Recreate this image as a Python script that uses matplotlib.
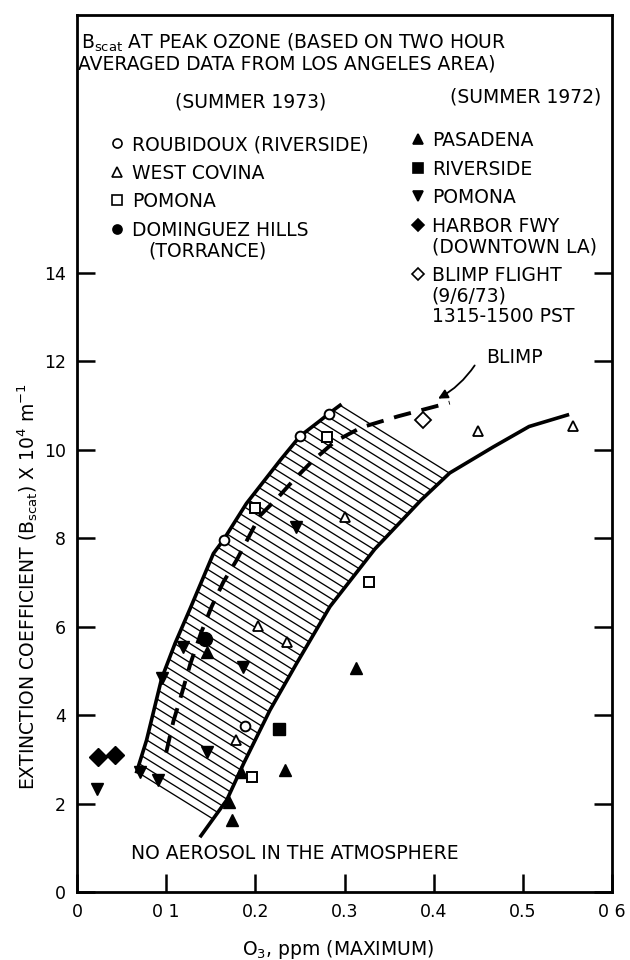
import numpy as np
import matplotlib
matplotlib.use("Agg")
import matplotlib.pyplot as plt
from matplotlib.patches import Polygon

plt.rcParams['font.family'] = ['DejaVu Sans']
plt.rcParams['mathtext.fontset'] = 'dejavusans'

# ---- data (O3 ppm, Bscat x 10^4 m^-1) ----
# summer 1973
roubidoux_x = [0.165, 0.250, 0.283, 0.188]
roubidoux_y = [7.95, 10.31, 10.80, 3.75]
west_covina_x = [0.178, 0.203, 0.235, 0.300, 0.450, 0.556]
west_covina_y = [3.43, 6.01, 5.66, 8.48, 10.42, 10.53]
pomona73_x = [0.196, 0.327, 0.200, 0.280]
pomona73_y = [2.61, 7.01, 8.67, 10.29]
dominguez_x = [0.1435]
dominguez_y = [5.71]

# summer 1972
pasadena_x = [0.1455, 0.313, 0.233, 0.184, 0.170, 0.1735]
pasadena_y = [5.43, 5.07, 2.76, 2.72, 2.04, 1.63]
riverside_x = [0.227]
riverside_y = [3.68]
pomona72_x = [0.0225, 0.0707, 0.091, 0.095, 0.119, 0.1454, 0.1865, 0.246]
pomona72_y = [2.32, 2.72, 2.53, 4.83, 5.54, 3.17, 5.09, 8.26]
harbor_x = [0.024, 0.043]
harbor_y = [3.06, 3.09]

# blimp flight 9/6/73
blimp_x = [0.388]
blimp_y = [10.67]

# band edges and curves
left_edge_x = [0.067, 0.078, 0.095, 0.110, 0.127, 0.153, 0.164, 0.190, 0.228, 0.250, 0.2725, 0.283, 0.295]
left_edge_y = [2.72, 3.43, 4.83, 5.62, 6.41, 7.65, 7.95, 8.78, 9.76, 10.30, 10.65, 10.82, 11.00]
right_edge_x = [0.139, 0.168, 0.187, 0.2164, 0.2464, 0.2837, 0.334, 0.386, 0.418, 0.467, 0.507, 0.550]
right_edge_y = [1.27, 2.08, 2.91, 4.11, 5.17, 6.45, 7.75, 8.86, 9.47, 10.06, 10.52, 10.78]
blimp_curve_x = [0.100, 0.108, 0.117, 0.127, 0.139, 0.151, 0.164, 0.179, 0.192, 0.205,
                 0.226, 0.243, 0.263, 0.289, 0.319, 0.360, 0.418]
blimp_curve_y = [3.15, 3.85, 4.45, 5.15, 5.85, 6.45, 7.00, 7.50, 8.00, 8.50,
                 8.93, 9.31, 9.72, 10.18, 10.50, 10.75, 11.06]
hatch_slope = -12.5
n_hatch = 53

xticks = [0, 0.1, 0.2, 0.3, 0.4, 0.5, 0.6]
xtick_labels = ['0', '0 1', '0.2', '0.3', '0.4', '0.5', '0 6']
yticks = [0, 2, 4, 6, 8, 10, 12, 14]

legend_1973 = [('o', 'white', ['ROUBIDOUX (RIVERSIDE)']),
               ('^', 'white', ['WEST COVINA']),
               ('s', 'white', ['POMONA']),
               ('o', 'black', ['DOMINGUEZ HILLS', '(TORRANCE)'])]
legend_1972 = [('^', 'black', ['PASADENA']),
               ('s', 'black', ['RIVERSIDE']),
               ('v', 'black', ['POMONA']),
               ('D', 'black', ['HARBOR FWY', '(DOWNTOWN LA)']),
               ('D', 'white', ['BLIMP FLIGHT', '(9/6/73)', '1315-1500 PST'])]

FS = 13.5

fig = plt.figure(figsize=(6.3, 9.6), dpi=100)
ax = fig.add_axes([77 / 630, 68 / 960, 535 / 630, 877 / 960])
ax.set_xlim(0, 0.6)
ax.set_ylim(0, 19.82)

# hatched band between the two solid curves
band = Polygon(list(zip(left_edge_x, left_edge_y)) + list(zip(right_edge_x[::-1], right_edge_y[::-1])),
               closed=True, facecolor='none', edgecolor='none')
ax.add_patch(band)
c_lo = left_edge_y[0] - hatch_slope * left_edge_x[0]
c_hi = left_edge_y[-1] - hatch_slope * left_edge_x[-1]
xs = np.array([0.0, 0.6])
for c in np.linspace(c_lo, c_hi, n_hatch):
    ln, = ax.plot(xs, c + hatch_slope * xs, color='black', lw=0.95, zorder=2)
    ln.set_clip_path(band)

ax.plot(left_edge_x, left_edge_y, color='black', lw=2.6, zorder=3)
ax.plot(right_edge_x, right_edge_y, color='black', lw=2.6, zorder=3)
ax.plot(blimp_curve_x, blimp_curve_y, color='black', lw=2.8, ls=(0, (4.5, 2.8)),
        dash_capstyle='butt', zorder=3)

# data points
mk = dict(ls='none', color='black', zorder=5)
ax.plot(roubidoux_x, roubidoux_y, marker='o', ms=7, mfc='white', mew=1.4, **mk)
ax.plot(west_covina_x, west_covina_y, marker='^', ms=7, mfc='white', mew=1.3, **mk)
ax.plot(pomona73_x, pomona73_y, marker='s', ms=7, mfc='white', mew=1.4, **mk)
ax.plot(dominguez_x, dominguez_y, marker='o', ms=10, **mk)
ax.plot(pasadena_x, pasadena_y, marker='^', ms=8, **mk)
ax.plot(riverside_x, riverside_y, marker='s', ms=8.5, **mk)
ax.plot(pomona72_x, pomona72_y, marker='v', ms=8, **mk)
ax.plot(harbor_x, harbor_y, marker='D', ms=9, **mk)
ax.plot(blimp_x, blimp_y, marker='D', ms=8, mfc='white', mew=1.3, **mk)

# annotations
ax.annotate('', xy=(0.405, 11.15), xytext=(0.446, 11.9),
            arrowprops=dict(arrowstyle='-|>', color='black', lw=1.3, shrinkA=0, shrinkB=0,
                            connectionstyle='arc3,rad=-0.12', mutation_scale=14))
ax.text(0.459, 11.96, 'BLIMP', fontsize=FS, va='baseline')
ax.text(0.061, 0.736, 'NO AEROSOL IN THE ATMOSPHERE', fontsize=FS, va='baseline')

# title block inside the frame
ax.text(0.005, 19.06, 'B$_{\\mathrm{scat}}$ AT PEAK OZONE (BASED ON TWO HOUR', fontsize=FS, va='baseline')
ax.text(0.001, 18.59, 'AVERAGED DATA FROM LOS ANGELES AREA)', fontsize=FS, va='baseline')
ax.text(0.195, 17.72, '(SUMMER 1973)', fontsize=FS, va='baseline', ha='center')
ax.text(0.503, 17.835, '(SUMMER 1972)', fontsize=FS, va='baseline', ha='center')


def draw_key(entries, x_mark, x_text, indent, y0, step=0.644, inner=0.463):
    y = y0
    for marker, face, lines in entries:
        ax.plot([x_mark], [y + 0.15], marker=marker, ms=6.5, mfc=face, mec='black',
                mew=1.2, ls='none', clip_on=False)
        for i, line in enumerate(lines):
            ax.text(x_text + (indent if i else 0), y, line, fontsize=FS, va='baseline')
            if i < len(lines) - 1:
                y -= inner
        y -= step


draw_key(legend_1973, 0.0445, 0.0613, 0.019, 16.766)
draw_key(legend_1972, 0.3828, 0.3978, 0.0, 16.857)

# axes styling
ax.set_xticks(xticks)
ax.set_xticklabels(xtick_labels)
ax.set_yticks(yticks)
ax.tick_params(direction='in', length=13, width=1.8, labelsize=12.5, pad=8, right=True, top=False)
for s in ax.spines.values():
    s.set_linewidth(2.0)

ax.set_xlabel('O$_3$, ppm (MAXIMUM)', fontsize=FS)
ax.xaxis.label.set_va('center')
ax.xaxis.set_label_coords(0.488, -0.066)
ax.set_ylabel('EXTINCTION COEFFICIENT (B$_{\\mathrm{scat}}$) X 10$^4$ m$^{-1}$', fontsize=FS)
ax.yaxis.label.set_va('center')
ax.yaxis.set_label_coords(-0.092, 0.348)

fig.savefig('out.png', dpi=100)
